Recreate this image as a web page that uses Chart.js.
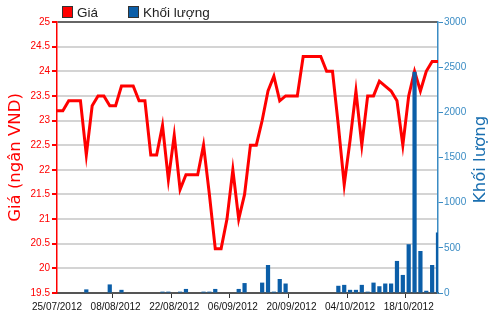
<!DOCTYPE html>
<html>
<head>
<meta charset="utf-8">
<script src="https://cdn.jsdelivr.net/npm/chart.js@4"></script>
<style>
  body { margin: 0; background: #fff; }
  #wrap { position: relative; width: 500px; height: 312px; }
  .lg { position: absolute; top: 5px; font: 13.5px 'Liberation Sans', Arial, sans-serif; color: #222; }
  .lg i { display: inline-block; width: 9px; height: 10px; border: 1px solid #333; vertical-align: -1px; margin-right: 4px; }
</style>
</head>
<body>
<div id="wrap">
  <div class="lg" style="left:62px"><i style="background:#ff0000"></i>Giá</div>
  <div class="lg" style="left:128px"><i style="background:#0b5ea8"></i>Khối lượng</div>
  <canvas id="stockChart" width="500" height="312"></canvas>
</div>
<script>
const dates = [
  '25/07/2012', '26/07/2012', '27/07/2012', '30/07/2012', '31/07/2012',
  '01/08/2012', '02/08/2012', '03/08/2012', '06/08/2012', '07/08/2012',
  '08/08/2012', '09/08/2012', '10/08/2012', '13/08/2012', '14/08/2012',
  '15/08/2012', '16/08/2012', '17/08/2012', '20/08/2012', '21/08/2012',
  '22/08/2012', '23/08/2012', '24/08/2012', '27/08/2012', '28/08/2012',
  '29/08/2012', '30/08/2012', '31/08/2012', '04/09/2012', '05/09/2012',
  '06/09/2012', '07/09/2012', '10/09/2012', '11/09/2012', '12/09/2012',
  '13/09/2012', '14/09/2012', '17/09/2012', '18/09/2012', '19/09/2012',
  '20/09/2012', '21/09/2012', '24/09/2012', '25/09/2012', '26/09/2012',
  '27/09/2012', '28/09/2012', '01/10/2012', '02/10/2012', '03/10/2012',
  '04/10/2012', '05/10/2012', '08/10/2012', '09/10/2012', '10/10/2012',
  '11/10/2012', '12/10/2012', '15/10/2012', '16/10/2012', '17/10/2012',
  '18/10/2012', '19/10/2012', '22/10/2012', '23/10/2012', '24/10/2012',
  '25/10/2012'
];

// giá (nghìn VND)
const prices = [
  23.2, 23.2, 23.4, 23.4, 23.4, 22.3, 23.3, 23.5, 23.5, 23.3,
  23.3, 23.7, 23.7, 23.7, 23.4, 23.4, 22.3, 22.3, 22.9, 21.8,
  22.7, 21.6, 21.9, 21.9, 21.9, 22.5, 21.5, 20.4, 20.4, 21.0,
  22.0, 21.0, 21.5, 22.5, 22.5, 23.0, 23.6, 23.9, 23.4, 23.5,
  23.5, 23.5, 24.3, 24.3, 24.3, 24.3, 24.0, 24.0, 22.9, 21.7,
  22.6, 23.6, 22.5, 23.5, 23.5, 23.8, 23.7, 23.6, 23.4, 22.5,
  23.5, 24.0, 23.6, 24.0, 24.2, 24.2
];

// khối lượng
const volumes = [
  0, 0, 0, 0, 0, 40, 0, 0, 0, 95,
  0, 35, 0, 0, 0, 0, 0, 0, 15, 15,
  0, 15, 45, 0, 0, 15, 15, 45, 0, 0,
  0, 45, 110, 0, 0, 115, 310, 15, 155, 105,
  0, 0, 0, 0, 0, 0, 0, 0, 80, 90,
  35, 35, 90, 15, 115, 75, 105, 105, 355, 200,
  540, 2450, 465, 25, 310, 670
];

const priceTicks = { min: 19.5, max: 25, step: 0.5 };
const volumeTicks = { min: 0, max: 3000, step: 500 };
const labelEvery = 10;

const RED = '#ff0000';
const BLUE = '#0b5ea8';
const AXIS_BLUE = '#3b8cc4';
const tickFont = { family: "'Liberation Sans', Arial, sans-serif", size: 10 };

// right title reads bottom-to-top, so draw it ourselves
const rightTitle = {
  id: 'rightTitle',
  afterDraw(chart) {
    const ctx = chart.ctx;
    const area = chart.chartArea;
    ctx.save();
    ctx.translate(481, (area.top + area.bottom) / 2 + 2);
    ctx.rotate(-Math.PI / 2);
    ctx.fillStyle = '#1a6fb0';
    ctx.font = "16.5px 'DejaVu Sans', sans-serif";
    ctx.textAlign = 'center';
    ctx.textBaseline = 'middle';
    ctx.fillText('Khối lượng', 0, 0);
    ctx.restore();
  },
};

new Chart(document.getElementById('stockChart').getContext('2d'), {
  data: {
    labels: dates,
    datasets: [
      {
        type: 'bar',
        label: 'Khối lượng',
        data: volumes,
        yAxisID: 'y1',
        backgroundColor: BLUE,
        barPercentage: 0.72,
        categoryPercentage: 1,
        order: 0,
      },
      {
        type: 'line',
        label: 'Giá',
        data: prices,
        yAxisID: 'y',
        borderColor: RED,
        borderWidth: 3,
        pointRadius: 0,
        tension: 0,
        fill: false,
        order: 1,
      },
    ],
  },
  options: {
    responsive: false,
    animation: false,
    layout: { padding: { top: 22, left: 0, right: 0, bottom: 0 } },
    plugins: {
      legend: { display: false },
      tooltip: { enabled: false },
    },
    scales: {
      x: {
        offset: false,
        afterFit: s => { s.height = 19; },
        border: { color: '#555', width: 2 },
        grid: {
          drawOnChartArea: false,
          tickLength: 5,
          tickColor: c => (c.index % labelEvery === 0 ? '#333' : 'transparent'),
        },
        ticks: {
          autoSkip: false,
          maxRotation: 0,
          padding: 3,
          color: '#111',
          font: tickFont,
          callback: (v, i) => (i % labelEvery === 0 ? dates[i] : ''),
        },
      },
      y: {
        position: 'left',
        min: priceTicks.min,
        max: priceTicks.max,
        afterFit: s => { s.width = 57; },
        border: { color: RED, width: 1.5 },
        grid: {
          color: c => (c.tick && c.tick.value === priceTicks.max ? '#666' : '#d4d4d4'),
          lineWidth: 2,
          tickLength: 5,
          tickColor: RED,
        },
        ticks: {
          stepSize: priceTicks.step,
          padding: 2,
          color: RED,
          font: tickFont,
          callback: v => String(v),
        },
        title: {
          display: true,
          text: 'Giá (ngân VND)',
          color: RED,
          padding: { top: 6, bottom: 0 },
          font: { family: "'DejaVu Sans', sans-serif", size: 16.5 },
        },
      },
      y1: {
        position: 'right',
        min: volumeTicks.min,
        max: volumeTicks.max,
        afterFit: s => { s.width = 62; },
        border: { color: AXIS_BLUE, width: 1.5 },
        grid: {
          drawOnChartArea: false,
          tickLength: 5,
          tickColor: AXIS_BLUE,
        },
        ticks: {
          stepSize: volumeTicks.step,
          padding: 1,
          color: AXIS_BLUE,
          font: tickFont,
          callback: v => String(v),
        },
      },
    },
  },
  plugins: [rightTitle],
});
</script>
</body>
</html>
